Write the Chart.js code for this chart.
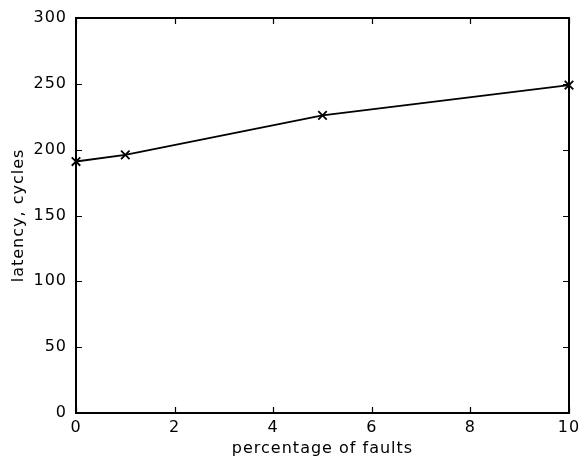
<!DOCTYPE html>
<html>
<head>
<meta charset="utf-8">
<script src="https://cdn.jsdelivr.net/npm/chart.js@4"></script>
<style>
  html, body { margin: 0; padding: 0; background: #fff; }
  #wrap { width: 579px; height: 462px; }
</style>
</head>
<body>
<div id="wrap"><canvas id="c" width="579" height="462"></canvas></div>
<script>
// values
var faultPct = [0, 1, 5, 10];
var latency = [191, 196, 226, 249];
var xTicks = [0, 2, 4, 6, 8, 10];
var yTicks = [0, 50, 100, 150, 200, 250, 300];

var FONT = 'DejaVu Sans';

// wider letter spacing, the old plot font is quite open
var spacing = {
  id: 'spacing',
  beforeDraw: function (chart) {
    chart.ctx.letterSpacing = '1px';
  }
};

// draws the box round the plot and the small inward ticks on all four sides
var boxTicks = {
  id: 'boxTicks',
  afterDatasetsDraw: function (chart) {
    var ctx = chart.ctx;
    var a = chart.chartArea;
    var xs = chart.scales.x, ys = chart.scales.y;
    var len = 6;
    ctx.save();
    ctx.strokeStyle = '#000';
    ctx.lineWidth = 1.2;
    ctx.beginPath();
    for (var i = 0; i < xTicks.length; i++) {
      var px = Math.round(xs.getPixelForValue(xTicks[i])) + 0.5;
      ctx.moveTo(px, a.bottom); ctx.lineTo(px, a.bottom - len);
      ctx.moveTo(px, a.top); ctx.lineTo(px, a.top + len);
    }
    for (var j = 0; j < yTicks.length; j++) {
      var py = Math.round(ys.getPixelForValue(yTicks[j])) + 0.5;
      ctx.moveTo(a.left, py); ctx.lineTo(a.left + len, py);
      ctx.moveTo(a.right, py); ctx.lineTo(a.right - len, py);
    }
    ctx.stroke();
    ctx.lineWidth = 2;
    ctx.strokeRect(a.left, a.top, a.right - a.left, a.bottom - a.top);
    ctx.restore();
  }
};

var pts = [];
for (var i = 0; i < faultPct.length; i++) {
  pts.push({x: faultPct[i], y: latency[i]});
}

new Chart(document.getElementById('c'), {
  type: 'line',
  data: {
    datasets: [{
      data: pts,
      borderColor: '#000',
      borderWidth: 1.8,
      pointStyle: 'crossRot',
      pointRadius: 6,
      pointBorderWidth: 1.8,
      pointBorderColor: '#000',
      pointBackgroundColor: '#000',
      fill: false,
      tension: 0,
      clip: false
    }]
  },
  options: {
    responsive: false,
    animation: false,
    events: [],
    layout: { padding: { top: 18, right: 10, left: 0, bottom: 0 } },
    plugins: { legend: { display: false }, tooltip: { enabled: false } },
    scales: {
      x: {
        type: 'linear',
        min: 0, max: 10,
        afterBuildTicks: function (s) { s.ticks = xTicks.map(function (v) { return {value: v}; }); },
        afterFit: function (s) { s.height = 49; s.paddingLeft = 0; s.paddingRight = 0; },
        grid: { display: false, drawTicks: false },
        border: { display: false },
        ticks: { color: '#000', padding: 5, maxRotation: 0, font: { family: FONT, size: 16 } },
        title: { display: true, text: 'percentage of faults', color: '#000', padding: { top: 0 }, font: { family: FONT, size: 16 } }
      },
      y: {
        min: 0, max: 300,
        afterBuildTicks: function (s) { s.ticks = yTicks.map(function (v) { return {value: v}; }); },
        afterFit: function (s) { s.width = 76; s.paddingTop = 0; s.paddingBottom = 0; },
        grid: { display: false, drawTicks: false },
        border: { display: false },
        ticks: { color: '#000', padding: 9, font: { family: FONT, size: 16 } },
        title: { display: true, text: 'latency, cycles', color: '#000', padding: { top: 9, bottom: 0 }, font: { family: FONT, size: 16 } }
      }
    }
  },
  plugins: [spacing, boxTicks]
});
</script>
</body>
</html>
